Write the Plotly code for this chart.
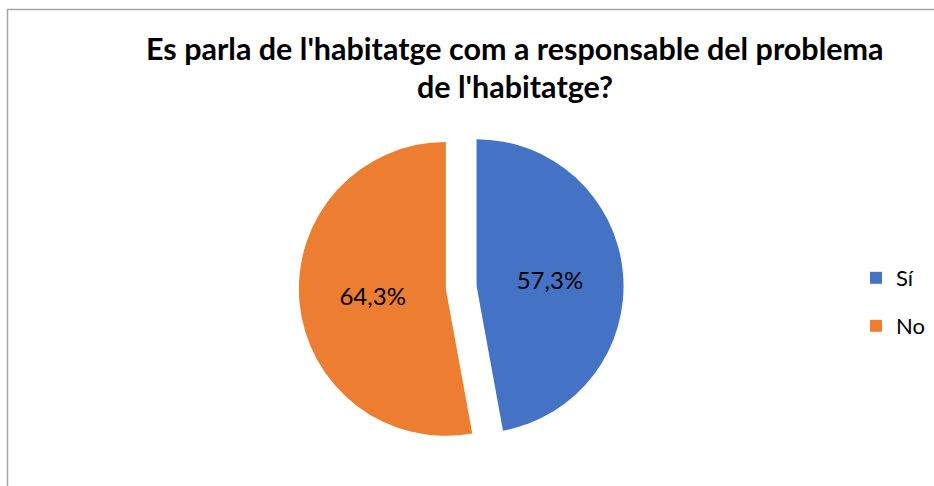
import plotly.graph_objects as go

labels = ["Sí", "No"]
values = [57.3, 64.3]
colors = ["#4472C4", "#ED7D31"]
title_lines = ["Es parla de l'habitatge com a responsable del problema", "de l'habitatge?"]

W, H = 934, 486
FONT = "Lato, 'Open Sans', sans-serif"

fig = go.Figure()
fig.add_trace(go.Pie(
    labels=labels, values=values, sort=False, direction="clockwise", rotation=0,
    marker=dict(colors=colors, line=dict(width=0)),
    pull=[0.105, 0.105],
    texttemplate="%{value:.1f}%", textposition="inside", insidetextorientation="horizontal",
    textfont=dict(family=FONT, size=24, color="#000000"),
    domain=dict(x=[298.8 / W, 623.6 / W], y=[36.1 / H, 360.9 / H]),
    showlegend=False, hoverinfo="label+value",
))

# legend entries, one legend box per category
legend_y = [278, 326]
for i, (lab, col) in enumerate(zip(labels, colors)):
    lname = "legend" if i == 0 else f"legend{i+1}"
    fig.add_trace(go.Scatter(
        x=[None], y=[None], mode="markers", name=lab,
        marker=dict(symbol="square", size=12, color=col),
        showlegend=True, legend=lname,
    ))
    fig.update_layout(**{lname: dict(
        x=856 / W, xanchor="left", y=1 - legend_y[i] / H, yanchor="middle",
        font=dict(family=FONT, size=22, color="#000000"),
        bgcolor="rgba(0,0,0,0)", borderwidth=0, itemwidth=30,
    )})

title_y = [48, 86]
for line, yy in zip(title_lines, title_y):
    fig.add_annotation(
        text=f"<b>{line}</b>", x=515 / W, y=1 - yy / H, xref="paper", yref="paper",
        xanchor="center", yanchor="middle", showarrow=False,
        font=dict(family=FONT, size=30.5, color="#000000"),
    )

fig.add_shape(type="rect", xref="paper", yref="paper",
              x0=7.5 / W, x1=1.05, y0=-0.05, y1=1 - 9.5 / H,
              line=dict(color="#A6A6A6", width=1.5))

fig.update_layout(
    width=W, height=H, margin=dict(l=0, r=0, t=0, b=0, autoexpand=False),
    paper_bgcolor="white", plot_bgcolor="white", separators=",.",
    xaxis=dict(visible=False), yaxis=dict(visible=False),
)
fig.write_html(
    "out.html",
    config={"displayModeBar": False},
    post_script="document.body.style.margin='0';document.body.style.padding='0';document.body.style.overflow='hidden';",
)
